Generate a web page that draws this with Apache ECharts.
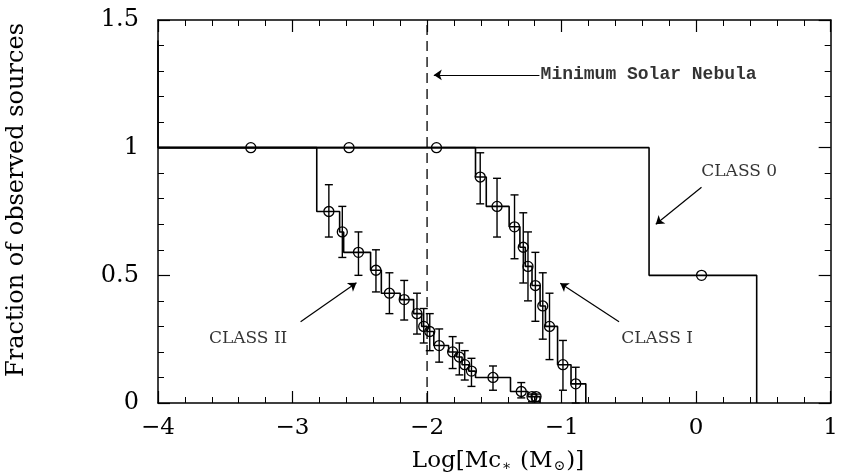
<!DOCTYPE html>
<html lang="en">
<head>
    <meta charset="UTF-8">
    <title>Fraction of observed sources</title>
    <script src="https://cdn.jsdelivr.net/npm/echarts@6/dist/echarts.min.js"></script>
    <style>
        html, body { margin: 0; padding: 0; background: #fff; }
        #main { width: 841px; height: 475px; }
    </style>
</head>
<body>
    <div id="main"></div>
    <script>
        // step curves: [x where level starts, level]
        const class0Step = [[-4, 1.42], [-4, 1], [-0.35, 0.5], [0.45, 0]];
        const class1Step = [[-4, 1], [-1.64, 0.885], [-1.56, 0.77], [-1.39, 0.69], [-1.31, 0.61],
            [-1.27, 0.535], [-1.22, 0.46], [-1.16, 0.38], [-1.12, 0.30], [-1.03, 0.15],
            [-0.93, 0.075], [-0.82, 0]];
        const class2Step = [[-4, 1], [-2.82, 0.75], [-2.65, 0.67], [-2.62, 0.59], [-2.42, 0.52],
            [-2.34, 0.43], [-2.2, 0.405], [-2.1, 0.35], [-2.04, 0.30], [-2.0, 0.28],
            [-1.95, 0.225], [-1.84, 0.20], [-1.78, 0.18], [-1.74, 0.15], [-1.69, 0.125],
            [-1.64, 0.10], [-1.38, 0.045], [-1.25, 0.025], [-1.16, 0]];

        // points: [x, y, low, high]
        const class0Points = [[-3.31, 1, 1, 1], [-2.58, 1, 1, 1], [-1.93, 1, 1, 1], [0.04, 0.5, 0.5, 0.5]];
        const class1Points = [
            [-1.605, 0.885, 0.78, 0.98], [-1.48, 0.77, 0.65, 0.88], [-1.35, 0.69, 0.565, 0.815],
            [-1.285, 0.61, 0.47, 0.745], [-1.25, 0.535, 0.40, 0.67], [-1.195, 0.46, 0.32, 0.59],
            [-1.14, 0.38, 0.25, 0.51], [-1.09, 0.30, 0.17, 0.43], [-0.99, 0.15, 0.05, 0.245],
            [-0.895, 0.075, 0.0, 0.14]];
        const class2Points = [
            [-2.73, 0.75, 0.65, 0.855], [-2.63, 0.67, 0.57, 0.77], [-2.51, 0.59, 0.50, 0.67],
            [-2.38, 0.52, 0.435, 0.60], [-2.28, 0.43, 0.35, 0.51], [-2.17, 0.405, 0.325, 0.48],
            [-2.075, 0.35, 0.27, 0.43], [-2.025, 0.30, 0.235, 0.37], [-1.98, 0.28, 0.205, 0.35],
            [-1.91, 0.225, 0.16, 0.29], [-1.81, 0.20, 0.135, 0.26], [-1.76, 0.18, 0.11, 0.235],
            [-1.72, 0.15, 0.09, 0.205], [-1.67, 0.125, 0.065, 0.175], [-1.51, 0.10, 0.05, 0.145],
            [-1.30, 0.045, 0.02, 0.08], [-1.22, 0.025, 0.005, 0.035], [-1.19, 0.025, 0.005, 0.035]];

        const nebulaLine = [[-2, 0], [-2, 1.5]];
        const arrows = [
            [[-1.165, 1.285], [-1.95, 1.285]],
            [[0.04, 0.845], [-0.30, 0.70]],
            [[-0.573, 0.318], [-1.01, 0.469]],
            [[-2.94, 0.318], [-2.525, 0.471]]
        ];
        const notes = [
            { name: 'CLASS 0', value: [0.32, 0.906] },
            { name: 'CLASS I', value: [-0.29, 0.251] },
            { name: 'CLASS II', value: [-3.33, 0.251] }
        ];
        const nebulaNote = [{ name: 'Minimum Solar Nebula', value: [-1.16, 1.285] }];

        const serif = 'DejaVu Serif';
        const black = '#000';

        function errorBars(params, api) {
            const x = api.value(0), y = api.value(1), lo = api.value(2), hi = api.value(3);
            const c = api.coord([x, y]);
            const kids = [];
            if (hi > lo) {
                const a = api.coord([x, hi]), b = api.coord([x, lo]);
                const st = { stroke: black, lineWidth: 1.4 };
                kids.push({ type: 'line', shape: { x1: a[0], y1: a[1], x2: b[0], y2: b[1] }, style: st });
                kids.push({ type: 'line', shape: { x1: a[0] - 4, y1: a[1], x2: a[0] + 4, y2: a[1] }, style: st });
                kids.push({ type: 'line', shape: { x1: b[0] - 4, y1: b[1], x2: b[0] + 4, y2: b[1] }, style: st });
            }
            kids.push({ type: 'circle', shape: { cx: c[0], cy: c[1], r: 5 },
                style: { fill: 'none', stroke: black, lineWidth: 1.3 } });
            return { type: 'group', children: kids };
        }

        function xAxisDef(pos) {
            return {
                type: 'value', position: pos, min: -4, max: 1, interval: 1,
                axisLine: { show: true, onZero: false, lineStyle: { color: black, width: 1.5 } },
                axisTick: { inside: true, length: 12, lineStyle: { color: black, width: 1.2 } },
                minorTick: { show: true, splitNumber: 5, length: 6, lineStyle: { color: black, width: 1 } },
                splitLine: { show: false },
                axisLabel: {
                    show: pos === 'bottom', color: black, fontFamily: serif, fontSize: 23, margin: 14,
                    formatter: v => v < 0 ? '\u2212' + Math.abs(v) : String(v)
                }
            };
        }

        function yAxisDef(pos) {
            return {
                type: 'value', position: pos, min: 0, max: 1.5, interval: 0.5,
                axisLine: { show: true, onZero: false, lineStyle: { color: black, width: 1.5 } },
                axisTick: { inside: true, length: 12, lineStyle: { color: black, width: 1.2 } },
                minorTick: { show: true, splitNumber: 5, length: 6, lineStyle: { color: black, width: 1 } },
                splitLine: { show: false },
                axisLabel: { show: pos === 'left', color: black, fontFamily: serif, fontSize: 24, margin: 19 }
            };
        }

        function stepSeries(data) {
            return {
                type: 'line', step: 'end', data: data, showSymbol: false, silent: true,
                lineStyle: { color: black, width: 1.6 }, z: 3
            };
        }

        function pointSeries(data) {
            return {
                type: 'custom', data: data, renderItem: errorBars,
                encode: { x: 0, y: 1 }, z: 4, silent: true
            };
        }

        const hidden = { color: 'rgba(0,0,0,0)' };

        const chart = echarts.init(document.getElementById('main'));
        chart.setOption({
            animation: false,
            backgroundColor: '#fff',
            grid: { left: 158, right: 4, top: 20, bottom: 72 },
            xAxis: [xAxisDef('bottom'), xAxisDef('top')],
            yAxis: [yAxisDef('left'), yAxisDef('right')],
            graphic: [
                {
                    type: 'text', x: 17, y: 200, rotation: Math.PI / 2, originX: 0, originY: 0,
                    style: {
                        text: 'Fraction of observed sources', fill: black, font: '24px "DejaVu Serif"',
                        align: 'center', verticalAlign: 'middle'
                    }
                },
                {
                    type: 'text', x: 498, y: 461,
                    style: {
                        text: '{a|Log[Mc}{s|\u2217}{a| (M}{s|\u2299}{a|)]}',
                        align: 'center', verticalAlign: 'middle',
                        rich: {
                            a: { fontFamily: serif, fontSize: 23, fill: black, color: black },
                            s: { fontFamily: serif, fontSize: 14, fill: black, color: black, padding: [10, 1, 0, 1] }
                        }
                    }
                }
            ],
            series: [
                stepSeries(class0Step),
                stepSeries(class1Step),
                stepSeries(class2Step),
                pointSeries(class0Points),
                pointSeries(class1Points),
                pointSeries(class2Points),
                {
                    type: 'line', data: nebulaLine, showSymbol: false, silent: true,
                    lineStyle: { color: black, width: 1.3, type: [10, 6] }, z: 2
                },
                {
                    type: 'lines', coordinateSystem: 'cartesian2d', silent: true,
                    symbol: ['none', 'arrow'], symbolSize: 8,
                    lineStyle: { color: black, width: 1.2, opacity: 1 },
                    data: arrows.map(a => ({ coords: a }))
                },
                {
                    type: 'scatter', data: notes, symbolSize: 1, silent: true, z: 5,
                    itemStyle: hidden,
                    label: {
                        show: true, position: 'inside', formatter: '{b}',
                        color: black, fontFamily: serif, fontSize: 17
                    }
                },
                {
                    type: 'scatter', data: nebulaNote, symbolSize: 1, silent: true, z: 5,
                    itemStyle: hidden,
                    label: {
                        show: true, position: 'right', distance: 0, formatter: '{b}',
                        color: black, fontFamily: 'Liberation Mono', fontWeight: 'bold', fontSize: 18
                    }
                }
            ]
        });

        window.addEventListener('resize', function () {
            chart.resize();
        });
    </script>
</body>
</html>
